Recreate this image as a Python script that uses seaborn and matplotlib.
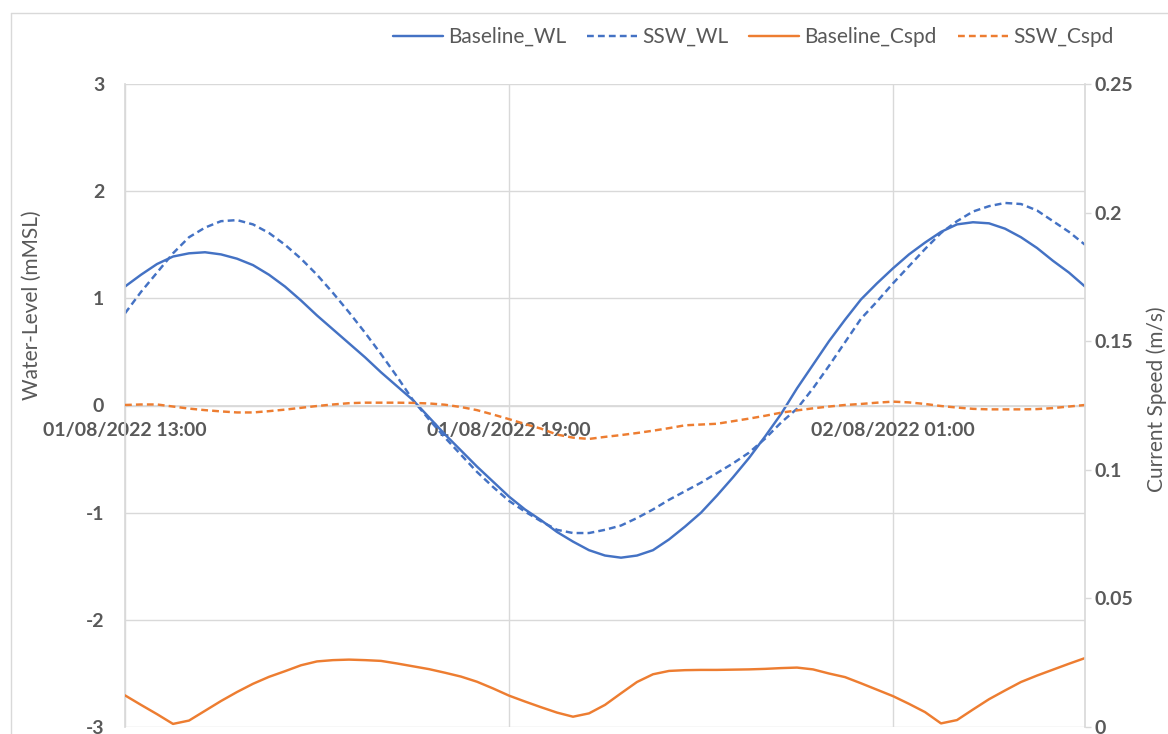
import pandas as pd
import seaborn as sns
import matplotlib.pyplot as plt
import matplotlib.dates as mdates
from matplotlib.lines import Line2D

# 15-minute series, 01/08/2022 13:00 -> 02/08/2022 04:00
times = pd.date_range("2022-08-01 13:00", "2022-08-02 04:00", freq="15min")

baseline_wl = [1.11, 1.22, 1.32, 1.39, 1.42, 1.43, 1.41, 1.37, 1.31, 1.22,
               1.11, 0.98, 0.84, 0.71, 0.58, 0.45, 0.31, 0.18, 0.05, -0.11,
               -0.27, -0.42, -0.57, -0.71, -0.85, -0.97, -1.07, -1.18, -1.27, -1.35,
               -1.40, -1.42, -1.40, -1.35, -1.25, -1.13, -1.00, -0.84, -0.67, -0.49,
               -0.29, -0.08, 0.16, 0.38, 0.60, 0.80, 0.99, 1.14, 1.28, 1.41,
               1.52, 1.62, 1.69, 1.71, 1.70, 1.65, 1.57, 1.47, 1.35, 1.24,
               1.11]
ssw_wl = [0.86, 1.06, 1.24, 1.42, 1.57, 1.66, 1.72, 1.73, 1.69, 1.61,
          1.50, 1.37, 1.22, 1.05, 0.87, 0.68, 0.48, 0.27, 0.05, -0.13,
          -0.30, -0.46, -0.62, -0.76, -0.89, -0.99, -1.08, -1.16, -1.19, -1.19,
          -1.16, -1.12, -1.05, -0.97, -0.88, -0.80, -0.72, -0.63, -0.54, -0.44,
          -0.31, -0.16, -0.03, 0.16, 0.37, 0.59, 0.81, 0.97, 1.14, 1.30,
          1.46, 1.61, 1.72, 1.81, 1.86, 1.89, 1.88, 1.82, 1.72, 1.62,
          1.50]
baseline_cspd = [0.0123, 0.0086, 0.0050, 0.0012, 0.0025, 0.0063, 0.0101, 0.0136, 0.0168, 0.0195,
                 0.0217, 0.0240, 0.0255, 0.0260, 0.0262, 0.0260, 0.0257, 0.0247, 0.0236, 0.0225,
                 0.0211, 0.0196, 0.0176, 0.0150, 0.0122, 0.0099, 0.0077, 0.0056, 0.0040, 0.0053,
                 0.0086, 0.0131, 0.0175, 0.0205, 0.0218, 0.0221, 0.0222, 0.0222, 0.0223, 0.0224,
                 0.0226, 0.0229, 0.0231, 0.0224, 0.0208, 0.0194, 0.0170, 0.0145, 0.0120, 0.0090,
                 0.0058, 0.0014, 0.0027, 0.0068, 0.0108, 0.0142, 0.0175, 0.0200, 0.0223, 0.0246,
                 0.0268]
ssw_cspd = [0.1252, 0.1254, 0.1254, 0.1246, 0.1238, 0.1232, 0.1227, 0.1223, 0.1223, 0.1228,
            0.1234, 0.1241, 0.1248, 0.1254, 0.1259, 0.1261, 0.1261, 0.1261, 0.1260, 0.1258,
            0.1253, 0.1244, 0.1232, 0.1215, 0.1197, 0.1178, 0.1160, 0.1137, 0.1125, 0.1120,
            0.1128, 0.1135, 0.1143, 0.1152, 0.1162, 0.1173, 0.1176, 0.1179, 0.1189, 0.1199,
            0.1210, 0.1222, 0.1231, 0.1239, 0.1246, 0.1252, 0.1256, 0.1261, 0.1265, 0.1262,
            0.1256, 0.1248, 0.1242, 0.1237, 0.1235, 0.1235, 0.1235, 0.1236, 0.1240, 0.1246,
            0.1252]

tick_times = pd.to_datetime(["2022-08-01 13:00", "2022-08-01 19:00", "2022-08-02 01:00"])
wl_ticks = [-3, -2, -1, 0, 1, 2, 3]
cspd_ticks = [0, 0.05, 0.1, 0.15, 0.2, 0.25]
cspd_labels = ["0", "0.05", "0.1", "0.15", "0.2", "0.25"]

BLUE = "#4472C4"
ORANGE = "#ED7D31"
GRID = "#D9D9D9"
TEXT = "#595959"
DASH = (0, (2.8, 1.7))
LW = 1.75

sns.set_theme(style="white")
plt.rcParams["font.family"] = ["Lato", "DejaVu Sans"]
plt.rcParams["axes.unicode_minus"] = False

W, H = 1168, 734
fig = plt.figure(figsize=(W / 100, H / 100), dpi=100)
ax = fig.add_axes([125 / W, 7 / H, 960 / W, 643 / H])
ax2 = ax.twinx()

sns.lineplot(x=times, y=baseline_wl, ax=ax, color=BLUE, lw=LW, label="Baseline_WL")
sns.lineplot(x=times, y=ssw_wl, ax=ax, color=BLUE, lw=LW, linestyle=DASH, label="SSW_WL")
sns.lineplot(x=times, y=baseline_cspd, ax=ax2, color=ORANGE, lw=LW, label="Baseline_Cspd")
sns.lineplot(x=times, y=ssw_cspd, ax=ax2, color=ORANGE, lw=LW, linestyle=DASH, label="SSW_Cspd")

# left axis
ax.set_ylim(-3, 3)
ax.set_yticks(wl_ticks)
ax.set_xlim(times[0], times[-1])
ax.set_xticks(tick_times)
ax.xaxis.set_major_formatter(mdates.DateFormatter("%d/%m/%Y %H:%M"))
ax.grid(True, color=GRID, lw=1)
ax.set_axisbelow(True)
for s in ["top", "right"]:
    ax.spines[s].set_visible(False)
ax.spines["left"].set_color(GRID)
ax.spines["bottom"].set_color(GRID)
ax.spines["bottom"].set_position(("data", 0))
ax.tick_params(axis="x", length=0, pad=12, labelsize=14, labelcolor=TEXT)
ax.tick_params(axis="y", length=0, pad=15, labelsize=14, labelcolor=TEXT)
for lab in ax.get_xticklabels() + ax.get_yticklabels():
    lab.set_fontweight("bold")
ax.set_xlabel("")
ax.set_ylabel("Water-Level (mMSL)", fontsize=15, color=TEXT)
ax.yaxis.set_label_coords(-0.0865, 0.656)

# right axis
ax2.set_ylim(0, 0.25)
ax2.set_yticks(cspd_ticks)
ax2.set_yticklabels(cspd_labels)
for s in ["top", "left", "bottom"]:
    ax2.spines[s].set_visible(False)
ax2.spines["right"].set_color(GRID)
ax2.tick_params(axis="y", length=4.5, width=1, color=GRID, pad=2, labelsize=14, labelcolor=TEXT)
for lab in ax2.get_yticklabels():
    lab.set_fontweight("bold")
ax2.grid(False)
ax2.set_ylabel("Current Speed (m/s)", fontsize=15, color=TEXT)
ax2.yaxis.set_label_coords(1.0635, 0.51)

# combined legend on top
handles = ax.get_lines() + ax2.get_lines()
labels = [h.get_label() for h in handles]
ax.get_legend().remove()
ax2.get_legend().remove()
fig.legend(handles, labels, loc="center", bbox_to_anchor=(753 / W, 1 - 37 / H), ncol=4,
           frameon=False, fontsize=15, labelcolor=TEXT, handlelength=2.4,
           handletextpad=0.25, columnspacing=1.0)

# chart area border (left and top edges visible in the crop)
fig.add_artist(Line2D([10.7 / W, 10.7 / W], [0, 1 - 12.7 / H], color=GRID, lw=1))
fig.add_artist(Line2D([10.7 / W, 1], [1 - 12.7 / H, 1 - 12.7 / H], color=GRID, lw=1))

fig.savefig("out.png", dpi=100)
